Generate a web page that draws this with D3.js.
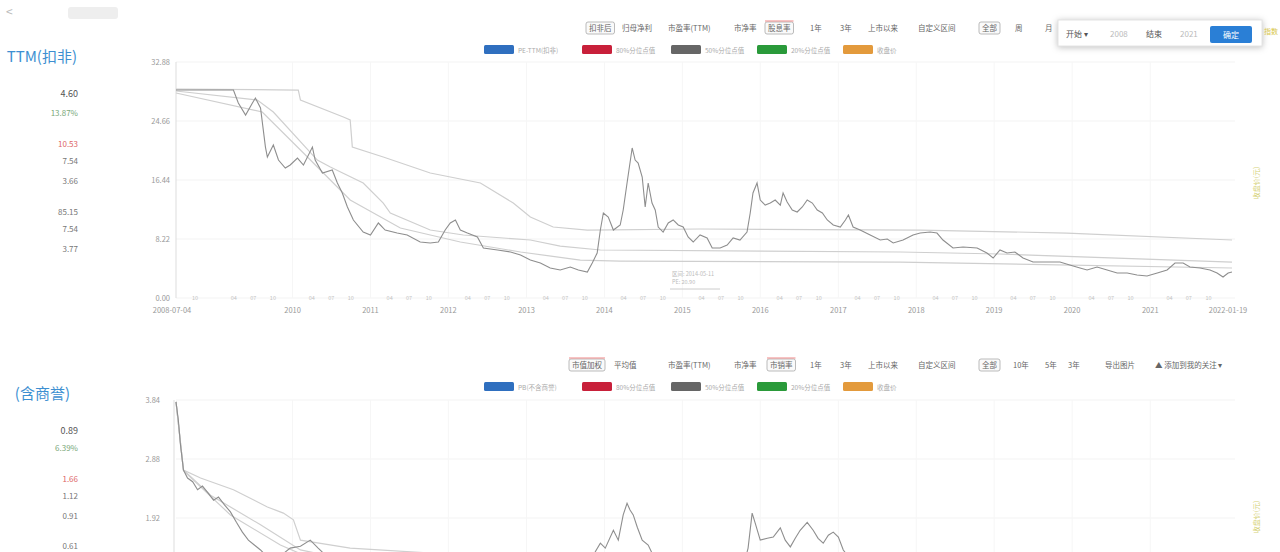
<!DOCTYPE html>
<html><head><meta charset="utf-8">
<script src="https://cdn.jsdelivr.net/npm/d3@7"></script>
<style>
body{margin:0;background:#fff;overflow:hidden}
svg text{font-family:"Noto Sans CJK SC","Noto Sans",sans-serif}
</style>
</head><body>
<svg id="c" width="1280" height="552"></svg>
<script>
// ---------------- DATA ----------------
const startDate = "2008-07-04", endDate = "2022-01-19";
const yearTicks = [2010,2011,2012,2013,2014,2015,2016,2017,2018,2019,2020,2021];
const topYTicks = [0, 8.22, 16.44, 24.66, 32.88];
const botYTicks = [1.92, 2.88, 3.84];
const legendTop = ["PE-TTM(扣非)","80%分位点值","50%分位点值","20%分位点值","收盘价"];
const legendBot = ["PB(不含商誉)","80%分位点值","50%分位点值","20%分位点值","收盘价"];
const legendColors = ["#2f6fbf","#c8203a","#666666","#2a9a3a","#e39a3c"];

const peDates = ["2008-07-04","2009-03-30","2009-04-22","2009-05-26","2009-06-27","2009-07-11","2009-08-04","2009-08-27","2009-09-05","2009-10-03","2009-10-27","2009-11-28","2009-12-21","2010-01-24","2010-02-21","2010-04-04","2010-04-17","2010-05-21","2010-07-06","2010-07-30","2010-08-22","2010-09-15","2010-10-13","2010-11-28","2011-01-01","2011-02-07","2011-03-11","2011-05-06","2011-06-22","2011-08-22","2011-10-08","2011-11-15","2011-12-17","2012-01-10","2012-02-03","2012-02-26","2012-03-30","2012-05-16","2012-06-13","2012-08-18","2012-10-18","2012-12-04","2013-01-19","2013-03-07","2013-04-22","2013-06-08","2013-07-25","2013-09-01","2013-10-13","2013-11-05","2013-11-28","2013-12-13","2013-12-27","2014-01-19","2014-02-12","2014-03-16","2014-03-30","2014-04-17","2014-05-11","2014-05-25","2014-06-08","2014-06-27","2014-07-11","2014-07-25","2014-08-12","2014-08-27","2014-09-10","2014-10-03","2014-10-27","2014-11-19","2014-12-13","2015-01-05","2015-01-28","2015-02-21","2015-03-25","2015-04-27","2015-05-21","2015-06-27","2015-07-30","2015-08-27","2015-09-28","2015-10-31","2015-11-15","2015-11-28","2015-12-17","2016-01-01","2016-01-24","2016-02-17","2016-03-11","2016-04-04","2016-04-17","2016-05-06","2016-05-30","2016-06-22","2016-07-16","2016-08-08","2016-09-01","2016-09-24","2016-10-18","2016-11-10","2016-12-08","2017-01-10","2017-02-03","2017-02-17","2017-03-11","2017-04-13","2017-05-30","2017-07-16","2017-08-18","2017-09-15","2017-10-31","2017-12-17","2018-01-19","2018-03-07","2018-04-08","2018-05-06","2018-06-22","2018-08-08","2018-10-13","2018-11-28","2018-12-27","2019-01-28","2019-03-02","2019-04-08","2019-05-16","2019-07-02","2019-09-05","2019-11-05","2019-12-21","2020-02-07","2020-03-11","2020-04-27","2020-06-13","2020-07-30","2020-09-15","2020-10-31","2020-12-17","2021-02-03","2021-03-21","2021-04-27","2021-06-04","2021-07-06","2021-08-22","2021-10-08","2021-11-10","2021-12-08","2022-01-01","2022-01-19"];
const peValues = [28.97,28.97,27.16,25.49,27.16,27.86,26.47,21.03,19.64,21.31,19.22,18.11,18.53,19.50,18.53,21.03,19.22,17.41,17.83,16.02,14.63,12.68,10.87,9.19,8.78,10.45,9.47,9.05,8.78,7.80,7.66,7.80,9.47,10.45,10.87,9.47,9.05,8.50,6.97,6.69,6.41,5.99,5.29,4.88,4.18,3.90,4.32,3.90,3.62,4.88,6.27,9.47,11.84,11.28,9.47,10.17,12.26,16.02,20.90,19.22,18.81,16.86,12.68,16.02,13.23,12.26,9.89,9.19,10.45,10.87,10.17,9.89,8.50,7.80,8.78,8.36,6.97,6.97,7.38,8.36,8.08,9.19,11.84,14.63,16.02,13.65,12.95,13.23,13.65,12.95,14.63,13.37,12.26,11.98,12.68,13.65,13.23,12.26,11.84,10.87,10.17,9.89,10.87,11.56,9.89,9.47,8.78,8.08,8.22,7.66,8.08,8.78,9.05,9.19,9.05,8.08,6.97,7.10,6.97,6.27,5.57,6.69,6.27,6.41,5.57,5.01,5.01,5.01,4.60,4.18,3.90,4.32,3.90,3.48,3.48,3.20,3.06,3.48,3.90,4.88,4.88,4.32,4.18,3.90,3.48,2.93,3.48,3.62];

const p80Dates = ["2008-07-04","2010-01-28","2010-02-07","2010-08-27","2010-09-28","2010-10-08","2011-03-02","2011-10-08","2012-05-30","2012-10-31","2013-01-19","2013-05-06","2013-10-13","2015-03-25","2018-01-19","2019-12-08","2022-01-19"];
const p80Values = [29.11,28.97,27.58,25.21,24.80,21.03,19.64,17.41,16.02,13.23,11.28,9.89,9.47,9.61,9.47,9.05,8.08];
const p50Dates = ["2008-07-04","2009-07-20","2009-10-03","2010-04-27","2010-06-27","2010-11-28","2011-03-02","2011-04-04","2011-10-08","2012-03-11","2013-01-19","2013-06-08","2013-12-13","2017-10-18","2019-01-28","2022-01-19"];
const p50Values = [28.84,27.58,25.91,19.22,18.25,16.02,13.23,11.84,9.47,8.78,8.08,7.24,6.69,6.41,6.13,5.01];
const p20Dates = ["2008-07-04","2009-08-12","2010-02-07","2010-09-28","2011-05-21","2012-02-26","2012-12-04","2013-09-10","2014-03-16","2017-10-18","2022-01-19"];
const p20Values = [28.56,25.91,20.62,13.65,9.75,7.80,6.41,5.29,5.15,5.01,4.18];

const pbDates = ["2008-07-04","2008-07-15","2008-07-25","2008-08-08","2008-08-27","2008-09-20","2008-10-13","2008-11-05","2008-11-28","2008-12-27","2009-01-19","2009-02-17","2009-03-16","2009-04-13","2009-05-11","2009-06-08","2009-07-06","2009-08-04","2009-09-01","2009-10-13","2009-12-21","2010-02-07","2010-03-25","2010-05-01","2010-06-27","2011-05-21","2012-09-01","2013-06-08","2013-11-19","2013-12-13","2014-01-05","2014-02-12","2014-03-07","2014-03-30","2014-04-17","2014-05-01","2014-05-16","2014-06-04","2014-06-27","2014-07-25","2014-08-27","2015-03-25","2015-10-22","2015-11-05","2015-11-24","2015-12-08","2016-01-01","2016-02-03","2016-03-02","2016-04-04","2016-04-27","2016-05-21","2016-06-13","2016-07-06","2016-08-08","2016-09-05","2016-09-28","2016-10-22","2016-11-15","2016-12-08","2017-01-01","2017-01-24","2017-02-27","2018-06-08","2020-05-11","2022-01-19"];
const pbValues = [3.81,3.51,3.11,2.70,2.57,2.51,2.38,2.44,2.34,2.21,2.26,2.13,2.02,1.85,1.69,1.56,1.48,1.40,1.30,1.24,1.43,1.46,1.56,1.43,1.24,0.83,0.67,0.59,1.37,1.51,1.43,1.72,1.56,1.97,2.16,2.05,1.97,1.77,1.56,1.48,1.24,0.91,1.24,1.43,2.00,1.84,1.56,1.59,1.61,1.76,1.56,1.45,1.59,1.72,1.85,1.72,1.59,1.51,1.64,1.69,1.61,1.40,1.24,0.83,0.59,0.62];
const pb80Dates = ["2008-07-04","2008-08-08","2008-10-27","2009-03-30","2009-09-05","2009-11-19","2010-01-05","2010-02-07","2010-09-28","2011-10-08","2013-04-22","2015-03-25","2022-01-19"];
const pb80Values = [3.81,2.70,2.57,2.38,2.10,2.00,1.89,1.56,1.43,1.35,1.16,1.07,0.99];
const pb50Dates = ["2008-07-04","2008-08-08","2008-12-13","2009-08-04","2010-02-07","2011-05-21","2022-01-19"];
const pb50Values = [3.81,2.70,2.29,1.81,1.40,1.07,0.75];
const pb20Dates = ["2008-07-04","2008-08-08","2009-03-16","2009-11-05","2010-09-28","2022-01-19"];
const pb20Values = [3.81,2.69,1.97,1.48,0.99,0.50];

const sideTop = ["4.60","13.87%","10.53","7.54","3.66","85.15","7.54","3.77"];
const sideBot = ["0.89","6.39%","1.66","1.12","0.91","0.61"];
const toolbarTop = ["扣非后","归母净利","市盈率(TTM)","市净率","股息率","1年","3年","上市以来","自定义区间","全部","周","月"];
const toolbarBot = ["市值加权","平均值","市盈率(TTM)","市净率","市销率","1年","3年","上市以来","自定义区间","全部","10年","5年","3年","导出图片","▲ 添加到我的关注 ▾"];
const popupLabels = ["开始 ▾","2008","结束","2021","确定"];

// ---------------- DRAW ----------------
const svg = d3.select("#c");
const parse = d3.timeParse("%Y-%m-%d");
const x = d3.scaleTime().domain([parse(startDate), parse(endDate)]).range([176, 1232]);
const yTop = d3.scaleLinear().domain([0, 32.88]).range([298, 62]);
const yBot = d3.scaleLinear().domain([0, 3.84]).range([636, 400]);
const zip = (ds, vs) => ds.map((d,i)=>({d:parse(d), v:vs[i]}));

// top-left bits
svg.append("text").attr("x",6).attr("y",16).attr("font-size",12).attr("fill","#bbb").text("<");
svg.append("rect").attr("x",68).attr("y",7).attr("width",50).attr("height",12).attr("rx",3).attr("fill","#eeeeee");

// side panels
function side(title, titleEnd, ty, fs, vals, ys, colors){
  svg.append("text").attr("x",titleEnd).attr("y",ty).attr("text-anchor","end").attr("font-size",fs).attr("fill","#3d8fd1").text(title);
  vals.forEach((t,i)=>{
    svg.append("text").attr("x",78).attr("y",ys[i]).attr("text-anchor","end").attr("font-size",i===0?9:8).attr("fill",colors[i]).text(t);
  });
}
side("TTM(扣非)",77,62,15,sideTop,[97,116,147,164,184,215,232,252],["#555","#7aa87a","#d66","#777","#777","#777","#777","#777"]);
side("(含商誉)",70,399,15,sideBot,[434,451,482,499,519,549],["#555","#7aa87a","#d66","#777","#777","#777"]);

// toolbar
function toolbar(items, xs, boxed, underline, y){
  items.forEach((t,i)=>{
    const g = svg.append("g");
    const tx = g.append("text").attr("x",xs[i]).attr("y",y).attr("font-size",7.5).attr("fill","#666").text(t);
    if (boxed.includes(i)){
      const w = tx.node().getComputedTextLength();
      g.insert("rect","text").attr("x",xs[i]-3).attr("y",y-9).attr("width",w+6).attr("height",12).attr("rx",2)
        .attr("fill","#fafafa").attr("stroke","#aaa").attr("stroke-width",0.8);
      if (underline.includes(i)) g.append("line").attr("x1",xs[i]-3).attr("x2",xs[i]+w+3).attr("y1",y-10).attr("y2",y-10).attr("stroke","#e88").attr("stroke-width",1);
    }
  });
}
toolbar(toolbarTop,[589,622,668,734,768,810,840,868,918,982,1015,1045],[0,4,9],[4],31);
toolbar(toolbarBot,[572,614,668,734,770,810,840,868,918,982,1013,1045,1068,1105,1155],[0,4,9],[0,4],368);

// popup
svg.append("rect").attr("x",1058).attr("y",20).attr("width",204).attr("height",26).attr("fill","#fff")
  .attr("stroke","#e4e4e4").style("filter","drop-shadow(0 1px 3px rgba(0,0,0,0.25))");
const px = [1066,1110,1146,1180,1214];
popupLabels.forEach((t,i)=>{
  if (i===4){
    svg.append("rect").attr("x",1210).attr("y",26).attr("width",42).attr("height",17).attr("rx",2).attr("fill","#2a7fd6");
    svg.append("text").attr("x",1231).attr("y",38).attr("text-anchor","middle").attr("font-size",8).attr("fill","#fff").text(t);
  } else {
    const tx = svg.append("text").attr("x",px[i]).attr("y",37).attr("font-size",8).attr("fill",i%2?"#bbb":"#555").text(t);
    if (i===2){ const w=tx.node().getComputedTextLength(); svg.insert("rect","text").attr("x",px[i]-3).attr("y",27).attr("width",w+6).attr("height",14).attr("fill","none").attr("stroke","#ccc");}
  }
});
svg.append("text").attr("x",1264).attr("y",34).attr("font-size",7).attr("fill","#d8c64a").text("指数");

// legends
function legend(labels, y){
  const lx = [484,582,671,757,843];
  labels.forEach((t,i)=>{
    svg.append("rect").attr("x",lx[i]).attr("y",y-5).attr("width",30).attr("height",9).attr("rx",1.5).attr("fill",legendColors[i]);
    svg.append("text").attr("x",lx[i]+34).attr("y",y+3).attr("font-size",6.5).attr("fill","#aaa").text(t);
  });
}
legend(legendTop,50);
legend(legendBot,387);

// -------- top chart --------
const gTop = svg.append("g");
gTop.selectAll(".hg").data(topYTicks).join("line").attr("x1",176).attr("x2",1235)
  .attr("y1",d=>yTop(d)).attr("y2",d=>yTop(d)).attr("stroke","#f3f3f3");
gTop.selectAll(".vg").data(yearTicks).join("line").attr("x1",d=>x(new Date(d,0,1))).attr("x2",d=>x(new Date(d,0,1)))
  .attr("y1",62).attr("y2",298).attr("stroke","#f6f6f6");
gTop.append("line").attr("x1",176).attr("x2",176).attr("y1",62).attr("y2",298).attr("stroke","#ddd");
gTop.selectAll(".yl").data(topYTicks).join("text").attr("x",170).attr("y",d=>yTop(d)+3).attr("text-anchor","end")
  .attr("font-size",7.5).attr("fill","#999").text(d=>d.toFixed(2));

// month labels
const months = d3.timeMonth.every(3).range(parse(startDate), parse(endDate)).filter(d=>d.getMonth()!==0);
gTop.selectAll(".ml").data(months).join("text").attr("x",d=>x(d)).attr("y",300).attr("text-anchor","middle")
  .attr("font-size",5.5).attr("fill","#c4c4c4").text(d=>d3.timeFormat("%m")(d));
gTop.selectAll(".yr").data(yearTicks).join("text").attr("x",d=>x(new Date(d,0,1))).attr("y",313).attr("text-anchor","middle")
  .attr("font-size",7.5).attr("fill","#999").text(d=>d);
gTop.append("text").attr("x",x(parse(startDate))-4).attr("y",313).attr("text-anchor","middle").attr("font-size",7.5).attr("fill","#999").text(startDate);
gTop.append("text").attr("x",x(parse(endDate))-4).attr("y",313).attr("text-anchor","middle").attr("font-size",7.5).attr("fill","#999").text(endDate);

const lineTop = d3.line().x(d=>x(d.d)).y(d=>yTop(d.v));
[[p20Dates,p20Values],[p50Dates,p50Values],[p80Dates,p80Values]].forEach(([ds,vs])=>{
  gTop.append("path").datum(zip(ds,vs)).attr("d",lineTop).attr("fill","none").attr("stroke","#cfcfcf").attr("stroke-width",1.2);
});
gTop.append("path").datum(zip(peDates,peValues)).attr("d",lineTop).attr("fill","none").attr("stroke","#8e8e8e").attr("stroke-width",1.1);

// small note in chart
gTop.append("text").attr("x",672).attr("y",276).attr("font-size",5.5).attr("fill","#bbb").text("区间: 2014-05-11");
gTop.append("text").attr("x",672).attr("y",284).attr("font-size",5.5).attr("fill","#bbb").text("PE: 20.90");
gTop.append("line").attr("x1",670).attr("x2",720).attr("y1",289).attr("y2",289).attr("stroke","#ccc");

// right vertical label
svg.append("text").attr("transform","translate(1259,183) rotate(-90)").attr("text-anchor","middle").attr("font-size",7).attr("fill","#d6d27a").text("收盘价(元)");
svg.append("text").attr("transform","translate(1259,517) rotate(-90)").attr("text-anchor","middle").attr("font-size",7).attr("fill","#d6d27a").text("收盘价(元)");

// -------- bottom chart --------
const gBot = svg.append("g");
gBot.selectAll(".hg").data(botYTicks).join("line").attr("x1",176).attr("x2",1235)
  .attr("y1",d=>yBot(d)).attr("y2",d=>yBot(d)).attr("stroke","#f3f3f3");
gBot.selectAll(".vg").data(yearTicks).join("line").attr("x1",d=>x(new Date(d,0,1))).attr("x2",d=>x(new Date(d,0,1)))
  .attr("y1",400).attr("y2",636).attr("stroke","#f6f6f6");
gBot.append("line").attr("x1",174).attr("x2",174).attr("y1",400).attr("y2",636).attr("stroke","#ddd");
gBot.selectAll(".yl").data(botYTicks).join("text").attr("x",160).attr("y",d=>yBot(d)+3).attr("text-anchor","end")
  .attr("font-size",7.5).attr("fill","#999").text(d=>d.toFixed(2));
const lineBot = d3.line().x(d=>x(d.d)).y(d=>yBot(d.v));
[[pb20Dates,pb20Values],[pb50Dates,pb50Values],[pb80Dates,pb80Values]].forEach(([ds,vs])=>{
  gBot.append("path").datum(zip(ds,vs)).attr("d",lineBot).attr("fill","none").attr("stroke","#cfcfcf").attr("stroke-width",1.2);
});
gBot.append("path").datum(zip(pbDates,pbValues)).attr("d",lineBot).attr("fill","none").attr("stroke","#8e8e8e").attr("stroke-width",1.1);
</script>
</body></html>
